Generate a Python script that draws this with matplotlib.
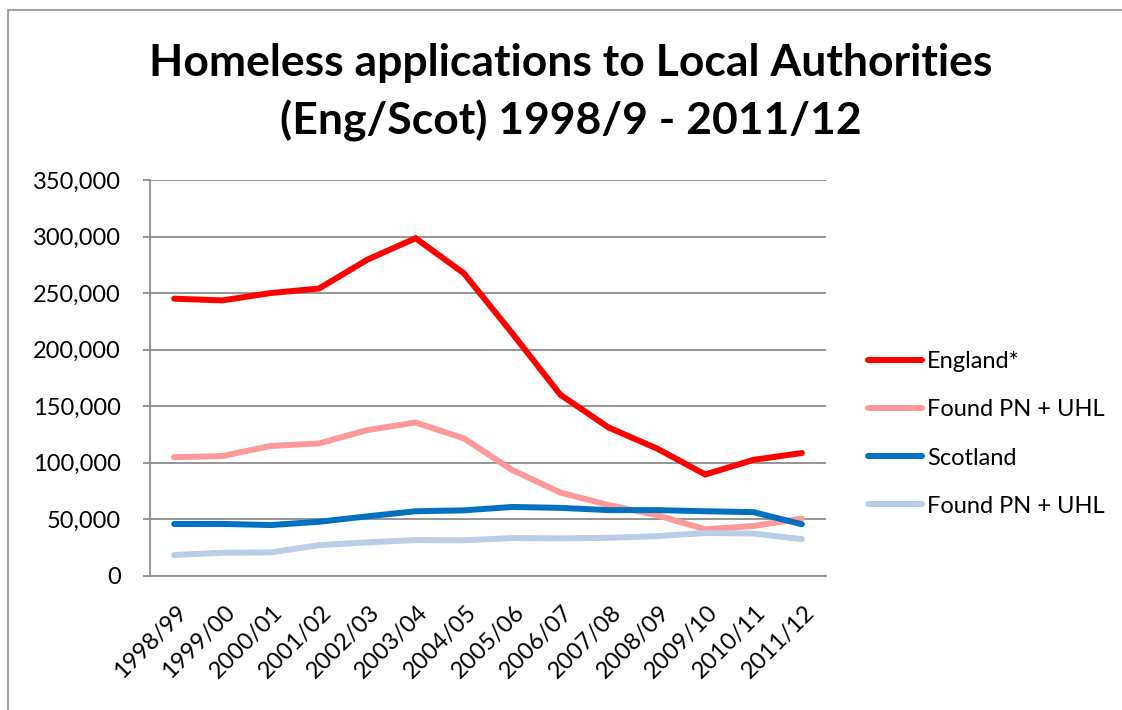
import matplotlib
matplotlib.use("Agg")
import matplotlib.pyplot as plt
from matplotlib.ticker import FuncFormatter, MultipleLocator
from matplotlib.patches import Rectangle
from matplotlib.transforms import ScaledTranslation

years = ["1998/99", "1999/00", "2000/01", "2001/02", "2002/03", "2003/04", "2004/05",
         "2005/06", "2006/07", "2007/08", "2008/09", "2009/10", "2010/11", "2011/12"]
england = [245000, 243500, 250000, 254000, 279500, 298500, 267500,
           214500, 160000, 131000, 112500, 89500, 102500, 108500]
england_found = [104800, 105800, 114800, 117000, 128800, 135500, 121500,
                 93500, 73500, 62500, 53500, 41000, 44000, 50500]
scotland = [45700, 45800, 44800, 47700, 52500, 57000, 57800,
            60800, 60000, 58000, 58000, 57000, 56200, 45500]
scotland_found = [18300, 20300, 20600, 27000, 29500, 31500, 31300,
                  33300, 33000, 33500, 35000, 37800, 37300, 32300]
labels = ["England*", "Found PN + UHL", "Scotland", "Found PN + UHL"]
colors = ["#FF0000", "#FF9999", "#0070C0", "#B9CDE5"]
title = "Homeless applications to Local Authorities\n(Eng/Scot) 1998/9 - 2011/12"

FONT = "Lato"
FS = 17
W, H = 1122, 710
fig = plt.figure(figsize=(W / 100, H / 100), dpi=100)
fig.patch.set_facecolor("white")

# outer chart-area border (partially cropped on right/bottom)
fig.add_artist(Rectangle((8 / W, -0.1), 1.2, 1.1 - 10 / H, transform=fig.transFigure,
                         fill=False, edgecolor="#8C8C8C", linewidth=1.2))

ax = fig.add_axes([150 / W, 1 - 575.7 / H, (826 - 150) / W, (575.7 - 180) / H])
series = [england, england_found, scotland, scotland_found]
x = list(range(len(years)))
for vals, lab, col in zip(series, labels, colors):
    ax.plot(x, vals, color=col, linewidth=4.3, label=lab, solid_capstyle="round",
            solid_joinstyle="miter")

ax.set_xlim(-0.5, len(years) - 0.5)
ax.set_ylim(0, 350000)
ax.yaxis.set_major_locator(MultipleLocator(50000))
ax.yaxis.set_major_formatter(FuncFormatter(lambda v, p: f"{int(v):,}"))
ax.grid(axis="y", color="#8C8C8C", linewidth=1.3)
ax.set_axisbelow(True)
for s in ["top", "right"]:
    ax.spines[s].set_visible(False)
for s in ["left", "bottom"]:
    ax.spines[s].set_color("#8C8C8C")
    ax.spines[s].set_linewidth(1.3)
ax.tick_params(axis="y", length=5, width=1.3, color="#8C8C8C", pad=16,
               labelsize=FS, labelcolor="black")
ax.tick_params(axis="x", length=0, pad=24, labelsize=FS)
ax.set_xticks(x)
ax.set_xticklabels(years, rotation=45, ha="right", rotation_mode="anchor", va="center")
off = ScaledTranslation(9 / 100, 0, fig.dpi_scale_trans)
for t in ax.get_xticklabels():
    t.set_transform(t.get_transform() + off)
for t in ax.get_xticklabels() + ax.get_yticklabels():
    t.set_fontfamily(FONT)

fig.text(571 / W, 1 - 92.5 / H, title, ha="center", va="center", fontsize=32,
         fontweight="bold", family=FONT, linespacing=1.5)

leg = fig.legend(loc="center left", bbox_to_anchor=(868 / W, 1 - 434 / H), frameon=False,
                 prop={"family": FONT, "size": FS}, handlelength=2.3,
                 handletextpad=0.2, labelspacing=1.15, borderpad=0, borderaxespad=0)

fig.savefig("out.png", dpi=100, facecolor="white")
